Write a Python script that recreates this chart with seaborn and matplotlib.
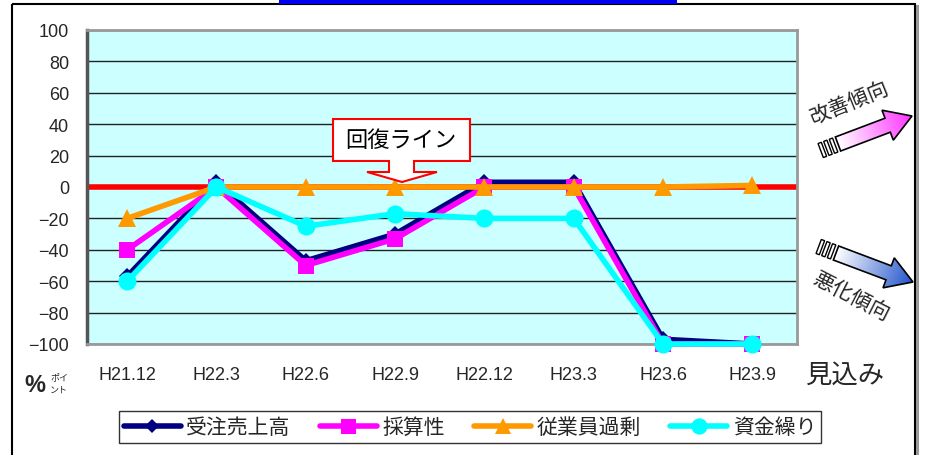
import numpy as np
import pandas as pd
import matplotlib
matplotlib.use("Agg")
import matplotlib.pyplot as plt
import seaborn as sns
from matplotlib.patches import Polygon, Rectangle
from matplotlib.lines import Line2D

categories = ["H21.12", "H22.3", "H22.6", "H22.9", "H22.12", "H23.3", "H23.6", "H23.9"]
juchu = [-57, 3, -47, -30, 3, 3, -97, -100]
saisan = [-40, 0, -50, -33, 0, 0, -100, -100]
jugyoin = [-20, 0, 0, 0, 0, 0, 0, 1]
shikin = [-60, 0, -25, -17, -20, -20, -100, -100]
series_names = ["受注売上高", "採算性", "従業員過剰", "資金繰り"]
yticks = [100, 80, 60, 40, 20, 0, -20, -40, -60, -80, -100]

sns.set_theme(style="white")
plt.rcParams['font.family'] = ['Noto Sans CJK JP', 'DejaVu Sans']
plt.rcParams['axes.unicode_minus'] = True

fig = plt.figure(figsize=(9.25, 4.56), dpi=100)
W, H = 925, 456
def fx(x): return x / W
def fy(y): return 1 - y / H

# overlay for frame decorations (pixel coords)
ov = fig.add_axes([0, 0, 1, 1], zorder=0)
ov.set_xlim(0, W); ov.set_ylim(H, 0); ov.axis("off")
ov.add_patch(Rectangle((12, 5), 903, 460, fill=False, ec="black", lw=1.5))
ov.add_patch(Rectangle((916, 6), 3, 460, color="#999999", lw=0))
ov.add_patch(Rectangle((279, -5), 398, 10, color="#0000EE", lw=0))

ax = fig.add_axes([fx(87), fy(345), fx(797) - fx(87), fy(31) - fy(345)], zorder=1)
ax.set_facecolor("#CCFFFF")

df = pd.DataFrame({"cat": categories * 4,
                   "val": juchu + saisan + jugyoin + shikin,
                   "series": sum([[n] * len(categories) for n in series_names], [])})

colors = {"受注売上高": "#000080", "採算性": "#FF00FF", "従業員過剰": "#FF9900", "資金繰り": "#00FFFF"}
markers = {"受注売上高": "D", "採算性": "s", "従業員過剰": "^", "資金繰り": "o"}
msize = {"受注売上高": 8, "採算性": 12, "従業員過剰": 13, "資金繰り": 13}

for ytk in yticks:
    ax.axhline(ytk, color="#222222", lw=1.0, zorder=1)
ax.axhline(0, color="#FF0000", lw=4, zorder=2)

for i, n in enumerate(series_names):
    sub = df[df.series == n]
    sns.lineplot(data=sub, x="cat", y="val", ax=ax, color=colors[n], lw=4,
                 marker=markers[n], markersize=msize[n], markeredgewidth=0,
                 sort=False, zorder=3 + i, legend=False, clip_on=False)

ax.set_ylim(-100, 100)
ax.set_xlim(-0.45, 7.5)
ax.set_yticks(yticks)
ax.set_yticklabels([str(v).replace("-", "−") for v in yticks], fontsize=13,
                   family=["Liberation Sans", "DejaVu Sans"])
ax.set_xticks(range(len(categories)))
ax.set_xticklabels(categories, fontsize=13, family=["Liberation Sans", "DejaVu Sans"])
ax.tick_params(axis="x", pad=16, length=0)
ax.tick_params(axis="y", pad=13, length=0)
ax.set_xlabel(""); ax.set_ylabel("")
for s in ["top", "right", "bottom"]:
    ax.spines[s].set_color("#999999"); ax.spines[s].set_linewidth(2)
ax.spines["left"].set_color("#555555"); ax.spines["left"].set_linewidth(2.5)
ax.grid(False)

# annotations overlay on top
top = fig.add_axes([0, 0, 1, 1], zorder=5)
top.set_xlim(0, W); top.set_ylim(H, 0); top.axis("off")

# callout 回復ライン
call = [(333, 120), (470, 120), (470, 162), (414, 162), (414, 173), (437, 173),
        (402, 183), (367, 173), (389, 173), (389, 162), (333, 162)]
top.add_patch(Polygon(call, closed=True, fc="white", ec="#FF0000", lw=1.5))
top.text(401, 141, "回復ライン", ha="center", va="center", fontsize=16, color="black")

def grad_arrow(tail, tip, c0, c1, width=15, head_w=32, head_l=26):
    tail = np.array(tail, float); tip = np.array(tip, float)
    d = tip - tail; L = np.linalg.norm(d); u = d / L; nrm = np.array([-u[1], u[0]])
    b = tip - u * head_l
    pts = [tail + nrm * width / 2, b + nrm * width / 2, b + nrm * head_w / 2, tip,
           b - nrm * head_w / 2, b - nrm * width / 2, tail - nrm * width / 2]
    poly = Polygon(pts, closed=True, fc="none", ec="black", lw=1.2, zorder=7)
    top.add_patch(poly)
    xs = np.array([p[0] for p in pts]); ys = np.array([p[1] for p in pts])
    n = 100
    c0 = np.array(matplotlib.colors.to_rgb(c0)); c1 = np.array(matplotlib.colors.to_rgb(c1))
    xx, yy = np.meshgrid(np.linspace(xs.min(), xs.max(), n), np.linspace(ys.min(), ys.max(), n))
    proj = ((xx - tail[0]) * u[0] + (yy - tail[1]) * u[1]) / L
    proj = np.clip(proj, 0, 1)
    img = c0[None, None, :] * (1 - proj[..., None]) + c1[None, None, :] * proj[..., None]
    im = top.imshow(img, extent=[xs.min(), xs.max(), ys.max(), ys.min()], origin="upper",
                    zorder=6, aspect="auto")
    clip = Polygon(pts, closed=True, transform=top.transData)
    im.set_clip_path(clip)
    # tail stripes
    for k in range(3):
        c = tail - u * (3 + k * 6)
        q = [c + nrm * width / 2, c + nrm * width / 2 - u * 3.5, c - nrm * width / 2 - u * 3.5, c - nrm * width / 2]
        top.add_patch(Polygon(q, closed=True, fc="white", ec="black", lw=1.0, zorder=7))

grad_arrow((838, 145), (912, 117), "#FFFFFF", "#FF33FF")
grad_arrow((836, 254), (913, 283), "#FFFFFF", "#2255CC")
top.text(849, 103, "改善傾向", rotation=22, ha="center", va="center", fontsize=15)
top.text(851, 297, "悪化傾向", rotation=-27, ha="center", va="center", fontsize=15)

top.text(846, 375, "見込み", ha="center", va="center", fontsize=19)
top.text(24, 386, "%", ha="left", va="center", fontsize=17, fontweight="bold",
         family=["Liberation Sans", "DejaVu Sans"])
top.text(50, 378, "ポイ", ha="left", va="center", fontsize=6.5)
top.text(50, 390, "ント", ha="left", va="center", fontsize=6.5)

handles = [Line2D([0], [0], color=colors[n], lw=4, marker=markers[n],
                  markersize=msize[n] * 0.9, markeredgewidth=0) for n in series_names]
leg = fig.legend(handles, series_names, loc="center", bbox_to_anchor=(fx(470), fy(428)),
                 ncol=4, fontsize=15, frameon=True, fancybox=False, edgecolor="black",
                 handlelength=2.75, columnspacing=1.4, borderpad=0.25, handletextpad=0.25)
leg.get_frame().set_linewidth(1.0)
leg.set_zorder(10)

fig.savefig("out.png", dpi=100)
